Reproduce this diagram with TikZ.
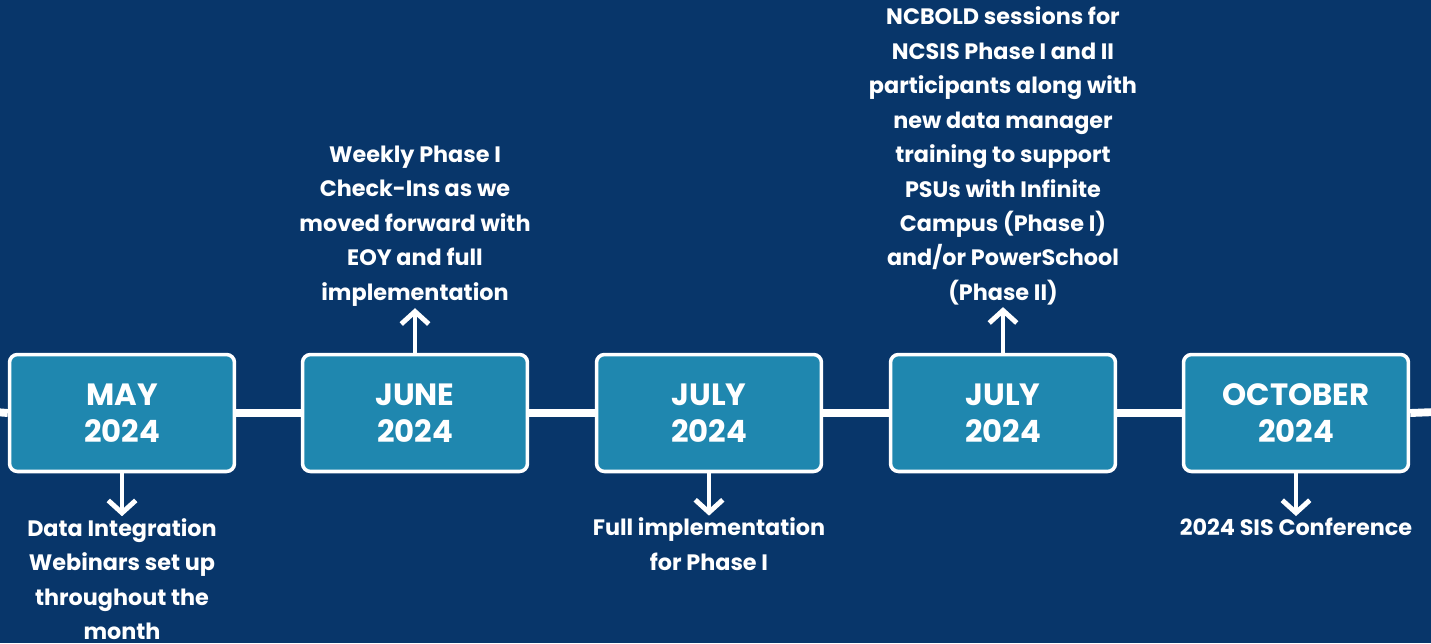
\documentclass[tikz,border=0pt]{standalone}
\usepackage{fontspec}
\setmainfont{Poppins}
\usepackage{tikz}
\usetikzlibrary{arrows.meta}
\definecolor{fond}{RGB}{8,54,106}
\definecolor{boite}{RGB}{31,135,175}

\begin{document}
\begin{tikzpicture}[x=0.02cm,y=-0.02cm]
		\tikzstyle{mois}=[draw=white,line width=2pt,fill=boite,rounded corners=0.16cm,minimum width=4.5cm,minimum height=2.34cm,align=center,text=white,font=\fontsize{17.5}{21}\selectfont\bfseries]
		\tikzstyle{texte}=[align=center,text=white,inner sep=1pt,font=\fontsize{12.7}{19.6}\selectfont\bfseries]
		\tikzstyle{fleche}=[draw=white,line width=2.8pt,-{Straight Barb[length=2.5mm,width=5.5mm]}]
		\tikzstyle{ligne}=[draw=white,line width=4.5pt]
		\fill[fond] (0,0) rectangle (1431,643);
		\useasboundingbox (0,0) rectangle (1431,643);
		\coordinate (G) at (-5,412);
		\coordinate (D) at (1436,412);
		\node[mois] (M1) at (122,413){MAY\\2024};
		\node[mois] (M2) at (415,413){JUNE\\2024};
		\node[mois] (M3) at (709,413){JULY\\2024};
		\node[mois] (M4) at (1003,413){JULY\\2024};
		\node[mois] (M5) at (1296,413){OCTOBER\\2024};
		\node[texte] (T1) at (122,579){Data Integration\\Webinars set up\\throughout the\\month};
		\node[texte] (T2) at (415,226){Weekly Phase I\\Check-Ins as we\\moved forward with\\EOY and full\\implementation};
		\node[texte] (T3) at (709,544){Full implementation\\for Phase I};
		\node[texte] (T4) at (1003,156){NCBOLD sessions for\\NCSIS Phase I and II\\participants along with\\new data manager\\training to support\\PSUs with Infinite\\Campus (Phase I)\\and/or PowerSchool\\(Phase II)};
		\node[texte] (T5) at (1296,527){2024 SIS Conference};

		\draw[ligne] (G)--(M1.west);
		\draw[ligne] (M1.east)--(M2.west);
		\draw[ligne] (M2.east)--(M3.west);
		\draw[ligne] (M3.east)--(M4.west);
		\draw[ligne] (M4.east)--(M5.west);
		\draw[ligne] (M5.east)--(D);
		\draw[fleche] (M1.south)--(T1.north);
		\draw[fleche] (M2.north)--(T2.south);
		\draw[fleche] (M3.south)--(T3.north);
		\draw[fleche] (M4.north)--(T4.south);
		\draw[fleche] (M5.south)--(T5.north);
	\end{tikzpicture}
\end{document}
